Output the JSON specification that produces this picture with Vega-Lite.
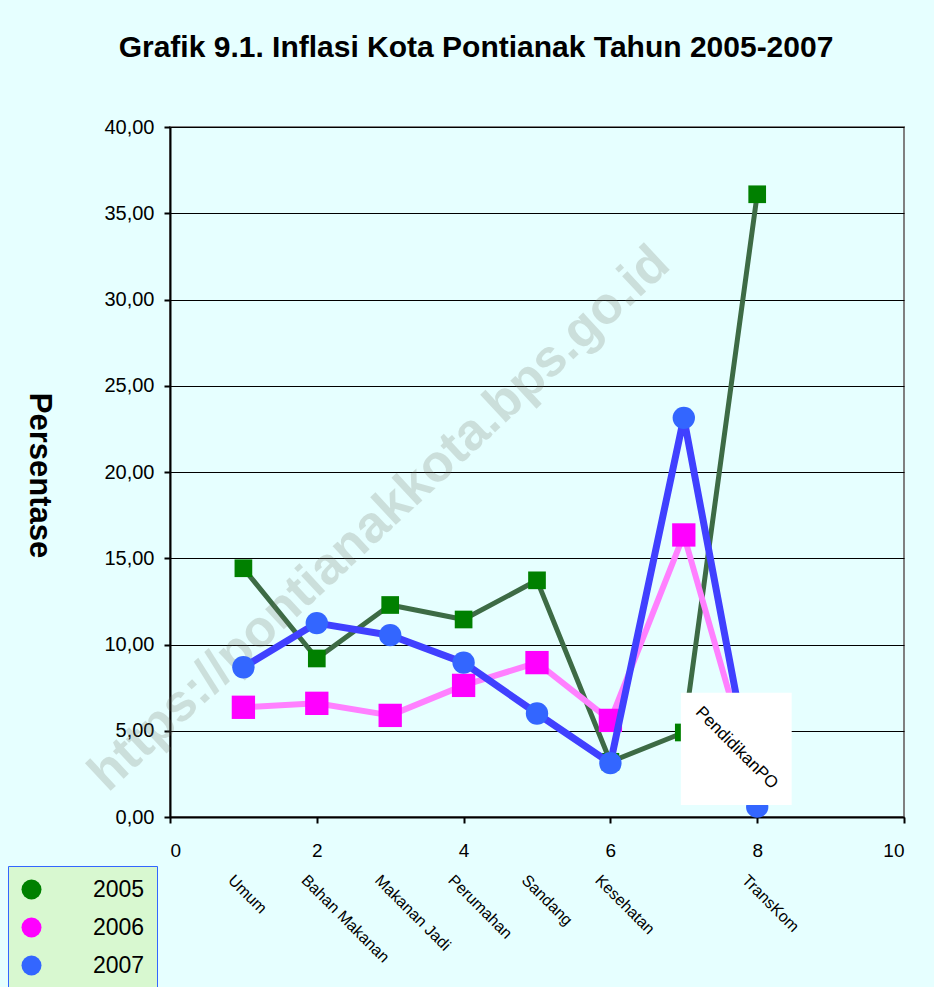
{
  "$schema": "https://vega.github.io/schema/vega-lite/v6.json",
  "width": 734,
  "height": 690,
  "autosize": "none",
  "padding": {"left": 170, "top": 127, "right": 30, "bottom": 170},
  "background": "#E6FFFF",
  "title": {
    "text": "Grafik 9.1. Inflasi Kota Pontianak Tahun 2005-2007",
    "font": "Liberation Sans",
    "fontSize": 30,
    "fontWeight": "bold",
    "color": "#000000",
    "anchor": "middle",
    "dx": -61,
    "offset": 54
  },
  "config": {
    "font": "Liberation Sans",
    "view": {"fill": "#F6F6C0", "stroke": "#808080", "strokeWidth": 2}
  },
  "datasets": {
    "series": [
      {"cat": "Umum", "pos": 1, "year": "2005", "value": 14.42},
      {"cat": "Bahan Makanan", "pos": 2, "year": "2005", "value": 9.19},
      {"cat": "Makanan Jadi", "pos": 3, "year": "2005", "value": 12.29},
      {"cat": "Perumahan", "pos": 4, "year": "2005", "value": 11.45},
      {"cat": "Sandang", "pos": 5, "year": "2005", "value": 13.72},
      {"cat": "Kesehatan", "pos": 6, "year": "2005", "value": 3.2},
      {"cat": "Pendidikan", "pos": 7, "year": "2005", "value": 4.9},
      {"cat": "TransKom", "pos": 8, "year": "2005", "value": 36.1},
      {"cat": "Umum", "pos": 1, "year": "2006", "value": 6.36},
      {"cat": "Bahan Makanan", "pos": 2, "year": "2006", "value": 6.59},
      {"cat": "Makanan Jadi", "pos": 3, "year": "2006", "value": 5.89},
      {"cat": "Perumahan", "pos": 4, "year": "2006", "value": 7.63},
      {"cat": "Sandang", "pos": 5, "year": "2006", "value": 8.95},
      {"cat": "Kesehatan", "pos": 6, "year": "2006", "value": 5.6},
      {"cat": "Pendidikan", "pos": 7, "year": "2006", "value": 16.35},
      {"cat": "TransKom", "pos": 8, "year": "2006", "value": 1.5},
      {"cat": "Umum", "pos": 1, "year": "2007", "value": 8.68},
      {"cat": "Bahan Makanan", "pos": 2, "year": "2007", "value": 11.24},
      {"cat": "Makanan Jadi", "pos": 3, "year": "2007", "value": 10.54},
      {"cat": "Perumahan", "pos": 4, "year": "2007", "value": 8.95},
      {"cat": "Sandang", "pos": 5, "year": "2007", "value": 6.0},
      {"cat": "Kesehatan", "pos": 6, "year": "2007", "value": 3.12},
      {"cat": "Pendidikan", "pos": 7, "year": "2007", "value": 23.14},
      {"cat": "TransKom", "pos": 8, "year": "2007", "value": 0.6}
    ],
    "labels": [
      {"cat": "Umum", "pos": 1},
      {"cat": "Bahan Makanan", "pos": 2},
      {"cat": "Makanan Jadi", "pos": 3},
      {"cat": "Perumahan", "pos": 4},
      {"cat": "Sandang", "pos": 5},
      {"cat": "Kesehatan", "pos": 6},
      {"cat": "TransKom", "pos": 8}
    ],
    "one": [{"k": 1}]
  },
  "layer": [
    {
      "data": {"name": "series"},
      "transform": [{"filter": "datum.year === '2005'"}],
      "mark": {"type": "line", "stroke": "#3D6B45", "strokeWidth": 5, "strokeJoin": "round"},
      "encoding": {
        "x": {
          "field": "pos", "type": "quantitative",
          "scale": {"domain": [0, 10], "nice": false},
          "axis": {"values": [0, 2, 4, 6, 8, 10], "format": "d", "title": null, "grid": false, "tickSize": 6, "tickColor": "#000000", "tickWidth": 2, "domainColor": "#000000", "domainWidth": 2, "labelFontSize": 19, "labelColor": "#000000", "labelPadding": 18, "labelFont": "Liberation Sans"}
        },
        "y": {
          "field": "value", "type": "quantitative",
          "scale": {"domain": [0, 40], "nice": false},
          "axis": {"values": [0, 5, 10, 15, 20, 25, 30, 35, 40], "format": ".2f", "labelExpr": "replace(datum.label, '.', ',')", "title": "Persentase", "titleFontSize": 31, "titleFontWeight": "bold", "titleColor": "#000000", "titleAngle": 90, "titleX": -132, "titleY": 348, "titleAlign": "center", "titleBaseline": "middle", "grid": true, "gridColor": "#000000", "gridWidth": 1, "gridOpacity": 1, "tickSize": 6, "tickColor": "#000000", "tickWidth": 2, "domainColor": "#000000", "domainWidth": 2, "labelFontSize": 20, "labelColor": "#000000", "labelPadding": 10, "labelFont": "Liberation Sans"}
        }
      }
    },
    {
      "data": {"name": "one"},
      "mark": {"type": "text", "text": "https://pontianakkota.bps.go.id", "angle": -43, "fontSize": 52, "fontWeight": "bold", "fill": "#707060", "opacity": 0.22, "align": "center", "baseline": "middle", "x": {"expr": "scale('x', 2.85)"}, "y": {"expr": "scale('y', 17.3)"}},
      "encoding": {}
    },
    {
      "data": {"name": "series"},
      "transform": [{"filter": "datum.year === '2005'"}],
      "mark": {"type": "point", "filled": true, "opacity": 1, "shape": "square", "size": 313, "fill": "#008000"},
      "encoding": {
        "x": {"field": "pos", "type": "quantitative"},
        "y": {"field": "value", "type": "quantitative"}
      }
    },
    {
      "data": {"name": "series"},
      "transform": [{"filter": "datum.year === '2006'"}],
      "mark": {"type": "line", "stroke": "#FF80FF", "strokeWidth": 6, "strokeJoin": "round"},
      "encoding": {
        "x": {"field": "pos", "type": "quantitative"},
        "y": {"field": "value", "type": "quantitative"}
      }
    },
    {
      "data": {"name": "series"},
      "transform": [{"filter": "datum.year === '2006'"}],
      "mark": {"type": "point", "filled": true, "opacity": 1, "shape": "square", "size": 544, "fill": "#FF00FF"},
      "encoding": {
        "x": {"field": "pos", "type": "quantitative"},
        "y": {"field": "value", "type": "quantitative"}
      }
    },
    {
      "data": {"name": "series"},
      "transform": [{"filter": "datum.year === '2007'"}],
      "mark": {"type": "line", "stroke": "#4040FF", "strokeWidth": 7, "strokeJoin": "round"},
      "encoding": {
        "x": {"field": "pos", "type": "quantitative"},
        "y": {"field": "value", "type": "quantitative"}
      }
    },
    {
      "data": {"name": "series"},
      "transform": [{"filter": "datum.year === '2007'"}],
      "mark": {"type": "point", "filled": true, "opacity": 1, "shape": "circle", "size": 500},
      "encoding": {
        "x": {"field": "pos", "type": "quantitative"},
        "y": {"field": "value", "type": "quantitative"},
        "fill": {
          "field": "year", "type": "nominal",
          "scale": {"domain": ["2005", "2006", "2007"], "range": ["#008000", "#FF00FF", "#3366FF"]},
          "legend": {
            "orient": "none", "legendX": -162, "legendY": 739, "title": null,
            "fillColor": "#D8F8D0", "strokeColor": "#3366FF",
            "padding": 12, "labelFontSize": 23, "labelColor": "#000000", "labelFont": "Liberation Sans",
            "symbolSize": 400, "symbolStrokeWidth": 0, "labelOffset": 50, "rowPadding": 14
          }
        }
      }
    },
    {
      "data": {"name": "labels"},
      "mark": {"type": "text", "angle": 45, "align": "left", "baseline": "top", "font": "Liberation Sans Narrow, Arial Narrow, Liberation Sans", "fontSize": 16, "fill": "#000000", "dx": -10},
      "encoding": {
        "x": {"field": "pos", "type": "quantitative"},
        "y": {"datum": -3.6, "type": "quantitative"},
        "text": {"field": "cat"}
      }
    },
    {
      "data": {"name": "one"},
      "mark": {"type": "rect", "fill": "#FFFFFF", "x": {"expr": "scale('x', 6.96)"}, "x2": {"expr": "scale('x', 8.47)"}, "y": {"expr": "scale('y', 7.2)"}, "y2": {"expr": "scale('y', 0.7)"}},
      "encoding": {}
    },
    {
      "data": {"name": "one"},
      "mark": {"type": "text", "text": "PendidikanPO", "angle": 45, "align": "center", "baseline": "middle", "font": "Liberation Sans Narrow, Arial Narrow, Liberation Sans", "fontSize": 17, "fill": "#000000", "x": {"expr": "scale('x', 7.72)"}, "y": {"expr": "scale('y', 4.0)"}},
      "encoding": {}
    }
  ]
}
